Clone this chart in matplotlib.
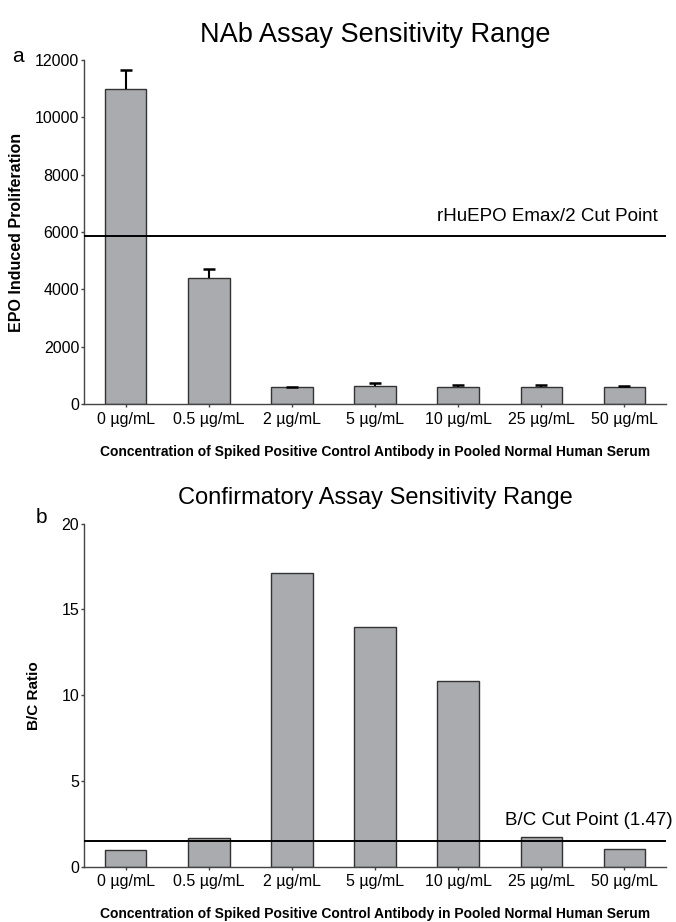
import numpy as np
import matplotlib
matplotlib.use("Agg")
import matplotlib.pyplot as plt

plt.rcParams['font.family'] = ['Liberation Sans', 'DejaVu Sans']

# concentrations of spiked positive control antibody
conc_labels = ['0 µg/mL', '0.5 µg/mL', '2 µg/mL', '5 µg/mL',
               '10 µg/mL', '25 µg/mL', '50 µg/mL']

# panel a: NAb assay, EPO induced proliferation (mean and upper SD)
nab_mean = [11000, 4400, 580, 630, 580, 585, 595]
nab_sd = [650, 320, 30, 90, 90, 85, 45]
nab_cut = 5850

# panel b: confirmatory assay, B/C ratio
bc_ratio = [1.0, 1.66, 17.1, 14.0, 10.8, 1.75, 1.05]
bc_cut = 1.47

bar_col = '#aaabaf'
edge_col = '#333333'
W, H = 676, 922

fig = plt.figure(figsize=(W/100, H/100), dpi=100)

def add_panel(top, bottom):
    return fig.add_axes([84/W, 1-bottom/H, (666-84)/W, (bottom-top)/H])

def style(ax):
    for s in ['top', 'right']:
        ax.spines[s].set_visible(False)
    for s in ['left', 'bottom']:
        ax.spines[s].set_color('#444444')
        ax.spines[s].set_linewidth(1.0)
    ax.tick_params(axis='both', length=2.5, width=1.0, color='#444444',
                   labelsize=11.5)
    ax.tick_params(axis='y', pad=1)
    ax.tick_params(axis='x', pad=3)
    ax.set_xlim(-0.5, 6.5)
    ax.set_xticks(np.arange(len(conc_labels)))
    ax.set_xticklabels(conc_labels)

xs = np.arange(len(conc_labels))
xlab = 'Concentration of Spiked Positive Control Antibody in Pooled Normal Human Serum'

# ---- panel a ----
ax1 = add_panel(60, 404)
ax1.bar(xs, nab_mean, width=0.5, color=bar_col, edgecolor=edge_col,
        linewidth=1.0, zorder=2)
eb = ax1.errorbar(xs, nab_mean, yerr=[np.zeros(len(xs)), nab_sd], fmt='none',
                  ecolor='black', elinewidth=1.5, capsize=4.5, capthick=1.8,
                  zorder=3)
# only the upper caps are drawn
eb[1][0].set_visible(False)
ax1.axhline(nab_cut, color='black', lw=1.4, zorder=4)
ax1.text(6.40, nab_cut + 380, 'rHuEPO Emax/2 Cut Point', ha='right',
         va='bottom', fontsize=13.5)
ax1.set_ylim(0, 12000)
ax1.set_yticks(np.arange(0, 12001, 2000))
style(ax1)
ax1.set_title('NAb Assay Sensitivity Range', fontsize=19.5, pad=13)
ax1.set_ylabel('EPO Induced Proliferation', fontsize=11.5, fontweight='bold',
               labelpad=8)
ax1.set_xlabel(xlab, fontsize=10, fontweight='bold', labelpad=13)
fig.text(18/W, 1-57/H, 'a', fontsize=15, ha='center', va='center')

# ---- panel b ----
ax2 = add_panel(523.7, 866.7)
ax2.bar(xs, bc_ratio, width=0.5, color=bar_col, edgecolor=edge_col,
        linewidth=1.0, zorder=2)
ax2.axhline(bc_cut, color='black', lw=1.4, zorder=4)
ax2.text(6.58, bc_cut + 0.7, 'B/C Cut Point (1.47)', ha='right',
         va='bottom', fontsize=13.5)
ax2.set_ylim(0, 20)
ax2.set_yticks(np.arange(0, 21, 5))
style(ax2)
ax2.set_title('Confirmatory Assay Sensitivity Range', fontsize=17, pad=14)
ax2.set_ylabel('B/C Ratio', fontsize=11, fontweight='bold', labelpad=15)
ax2.set_xlabel(xlab, fontsize=10, fontweight='bold', labelpad=13)
fig.text(41/W, 1-517/H, 'b', fontsize=15, ha='center', va='center')

fig.savefig('out.png', dpi=100)
